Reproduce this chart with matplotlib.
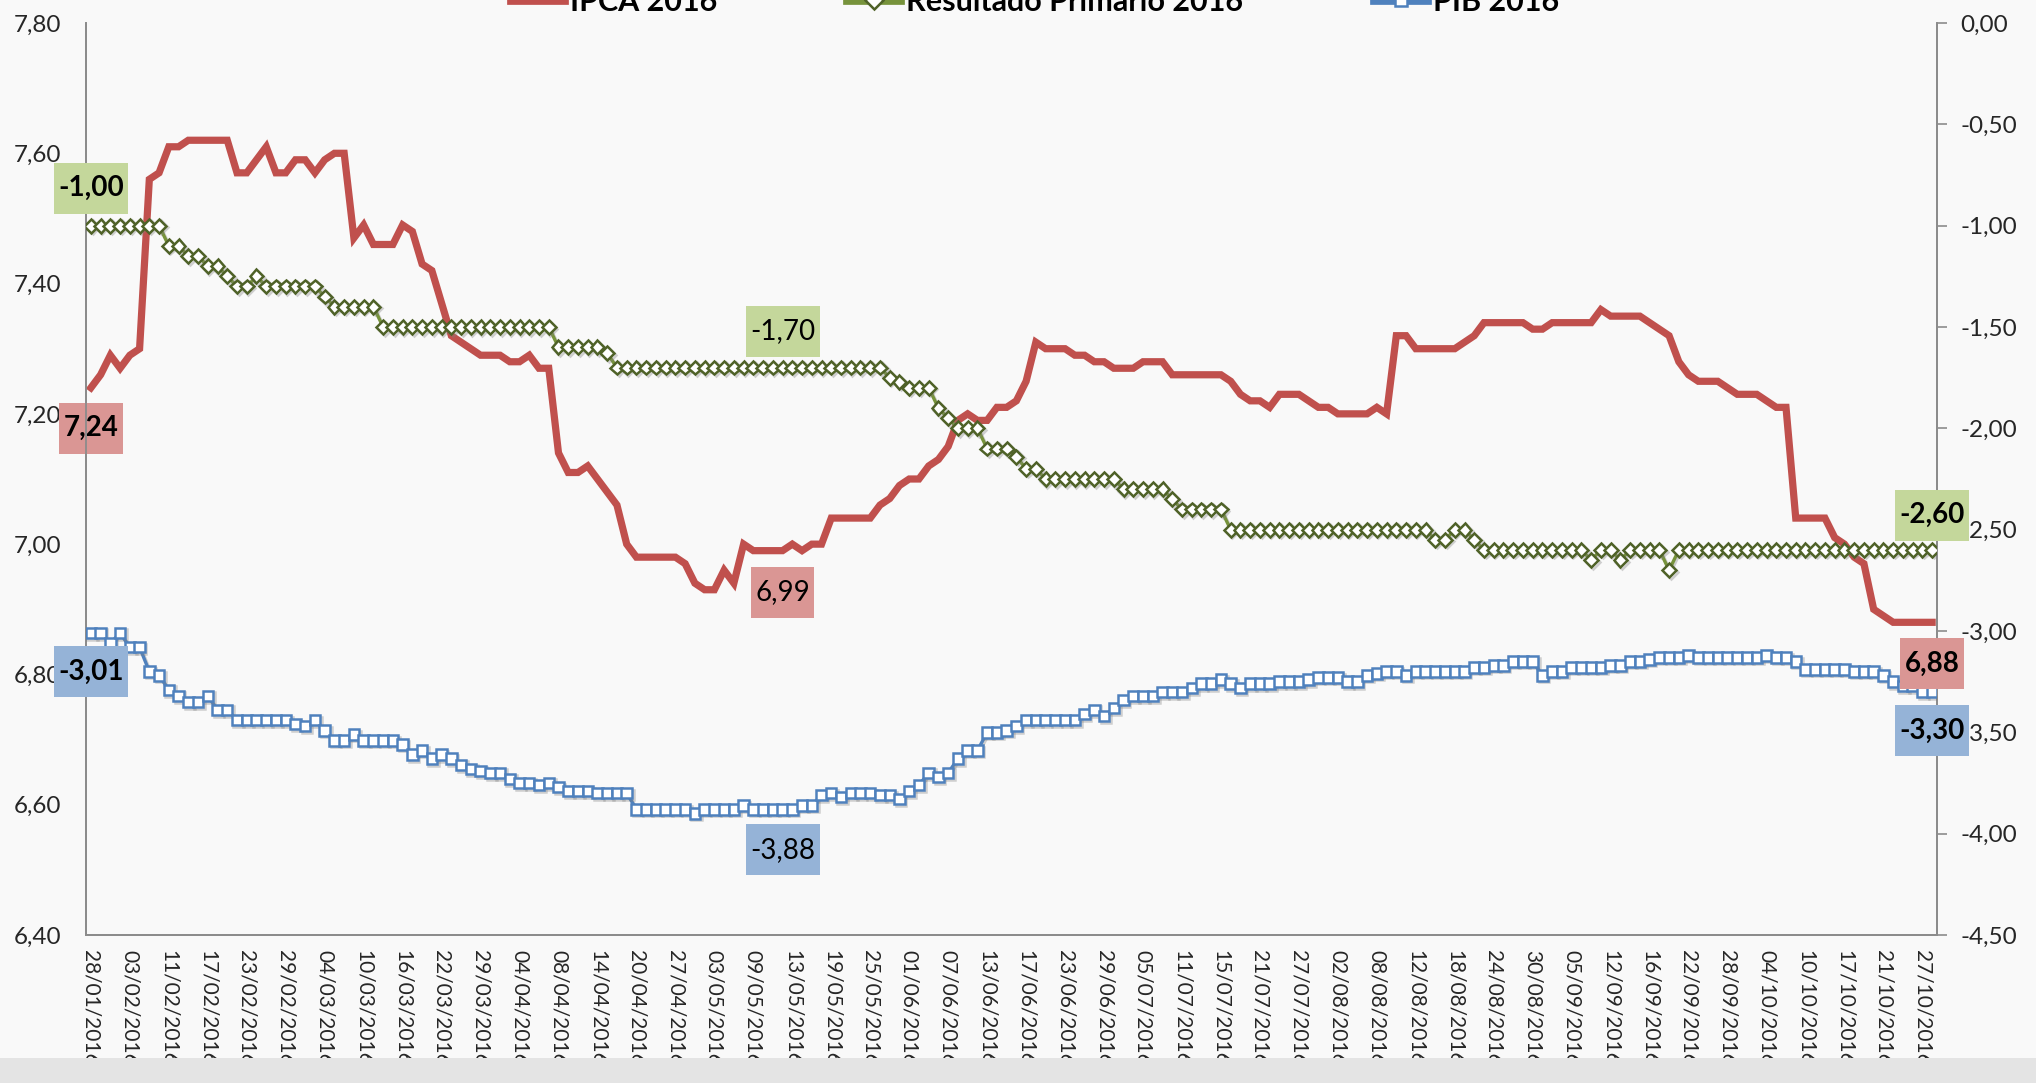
import matplotlib
matplotlib.use('Agg')
import matplotlib.pyplot as plt
import matplotlib.patheffects as pe
import pandas as pd
from matplotlib.lines import Line2D
from matplotlib.patches import Rectangle
from matplotlib.path import Path
from matplotlib.ticker import FixedLocator, FuncFormatter

# ---------------- data ----------------
holidays = ['2016-02-08', '2016-02-09', '2016-03-25', '2016-04-21',
            '2016-05-26', '2016-09-07', '2016-10-12']
dates = pd.bdate_range('2016-01-28', '2016-10-28', freq='C', holidays=holidays)

ipca = [7.24, 7.26, 7.29, 7.27, 7.29, 7.30, 7.56, 7.57, 7.61, 7.61,
        7.62, 7.62, 7.62, 7.62, 7.62, 7.57, 7.57, 7.59, 7.61, 7.57,
        7.57, 7.59, 7.59, 7.57, 7.59, 7.60, 7.60, 7.47, 7.49, 7.46,
        7.46, 7.46, 7.49, 7.48, 7.43, 7.42, 7.37, 7.32, 7.31, 7.30,
        7.29, 7.29, 7.29, 7.28, 7.28, 7.29, 7.27, 7.27, 7.14, 7.11,
        7.11, 7.12, 7.10, 7.08, 7.06, 7.00, 6.98, 6.98, 6.98, 6.98,
        6.98, 6.97, 6.94, 6.93, 6.93, 6.96, 6.94, 7.00, 6.99, 6.99,
        6.99, 6.99, 7.00, 6.99, 7.00, 7.00, 7.04, 7.04, 7.04, 7.04,
        7.04, 7.06, 7.07, 7.09, 7.10, 7.10, 7.12, 7.13, 7.15, 7.19,
        7.20, 7.19, 7.19, 7.21, 7.21, 7.22, 7.25, 7.31, 7.30, 7.30,
        7.30, 7.29, 7.29, 7.28, 7.28, 7.27, 7.27, 7.27, 7.28, 7.28,
        7.28, 7.26, 7.26, 7.26, 7.26, 7.26, 7.26, 7.25, 7.23, 7.22,
        7.22, 7.21, 7.23, 7.23, 7.23, 7.22, 7.21, 7.21, 7.20, 7.20,
        7.20, 7.20, 7.21, 7.20, 7.32, 7.32, 7.30, 7.30, 7.30, 7.30,
        7.30, 7.31, 7.32, 7.34, 7.34, 7.34, 7.34, 7.34, 7.33, 7.33,
        7.34, 7.34, 7.34, 7.34, 7.34, 7.36, 7.35, 7.35, 7.35, 7.35,
        7.34, 7.33, 7.32, 7.28, 7.26, 7.25, 7.25, 7.25, 7.24, 7.23,
        7.23, 7.23, 7.22, 7.21, 7.21, 7.04, 7.04, 7.04, 7.04, 7.01,
        7.00, 6.98, 6.97, 6.90, 6.89, 6.88, 6.88, 6.88, 6.88, 6.88]

primario = [-1.00, -1.00, -1.00, -1.00, -1.00, -1.00, -1.00, -1.00, -1.10, -1.10,
            -1.15, -1.15, -1.20, -1.20, -1.25, -1.30, -1.30, -1.25, -1.30, -1.30,
            -1.30, -1.30, -1.30, -1.30, -1.35, -1.40, -1.40, -1.40, -1.40, -1.40,
            -1.50, -1.50, -1.50, -1.50, -1.50, -1.50, -1.50, -1.50, -1.50, -1.50,
            -1.50, -1.50, -1.50, -1.50, -1.50, -1.50, -1.50, -1.50, -1.60, -1.60,
            -1.60, -1.60, -1.60, -1.63, -1.70, -1.70, -1.70, -1.70, -1.70, -1.70,
            -1.70, -1.70, -1.70, -1.70, -1.70, -1.70, -1.70, -1.70, -1.70, -1.70,
            -1.70, -1.70, -1.70, -1.70, -1.70, -1.70, -1.70, -1.70, -1.70, -1.70,
            -1.70, -1.70, -1.75, -1.77, -1.80, -1.80, -1.80, -1.90, -1.95, -2.00,
            -2.00, -2.00, -2.10, -2.10, -2.10, -2.14, -2.20, -2.20, -2.25, -2.25,
            -2.25, -2.25, -2.25, -2.25, -2.25, -2.25, -2.30, -2.30, -2.30, -2.30,
            -2.30, -2.35, -2.40, -2.40, -2.40, -2.40, -2.40, -2.50, -2.50, -2.50,
            -2.50, -2.50, -2.50, -2.50, -2.50, -2.50, -2.50, -2.50, -2.50, -2.50,
            -2.50, -2.50, -2.50, -2.50, -2.50, -2.50, -2.50, -2.50, -2.55, -2.55,
            -2.50, -2.50, -2.55, -2.60, -2.60, -2.60, -2.60, -2.60, -2.60, -2.60,
            -2.60, -2.60, -2.60, -2.60, -2.65, -2.60, -2.60, -2.65, -2.60, -2.60,
            -2.60, -2.60, -2.70, -2.60, -2.60, -2.60, -2.60, -2.60, -2.60, -2.60,
            -2.60, -2.60, -2.60, -2.60, -2.60, -2.60, -2.60, -2.60, -2.60, -2.60,
            -2.60, -2.60, -2.60, -2.60, -2.60, -2.60, -2.60, -2.60, -2.60, -2.60]

pib = [-3.01, -3.01, -3.06, -3.01, -3.08, -3.08, -3.20, -3.22, -3.29, -3.32,
       -3.35, -3.35, -3.32, -3.39, -3.39, -3.44, -3.44, -3.44, -3.44, -3.44,
       -3.44, -3.46, -3.47, -3.44, -3.49, -3.54, -3.54, -3.51, -3.54, -3.54,
       -3.54, -3.54, -3.56, -3.61, -3.59, -3.63, -3.61, -3.63, -3.66, -3.68,
       -3.69, -3.70, -3.70, -3.73, -3.75, -3.75, -3.76, -3.75, -3.77, -3.79,
       -3.79, -3.79, -3.80, -3.80, -3.80, -3.80, -3.88, -3.88, -3.88, -3.88,
       -3.88, -3.88, -3.90, -3.88, -3.88, -3.88, -3.88, -3.86, -3.88, -3.88,
       -3.88, -3.88, -3.88, -3.86, -3.86, -3.81, -3.80, -3.82, -3.80, -3.80,
       -3.80, -3.81, -3.81, -3.83, -3.79, -3.76, -3.70, -3.72, -3.70, -3.63,
       -3.59, -3.59, -3.50, -3.50, -3.49, -3.47, -3.44, -3.44, -3.44, -3.44,
       -3.44, -3.44, -3.41, -3.39, -3.42, -3.38, -3.34, -3.32, -3.32, -3.32,
       -3.30, -3.30, -3.30, -3.28, -3.26, -3.26, -3.24, -3.26, -3.28, -3.26,
       -3.26, -3.26, -3.25, -3.25, -3.25, -3.24, -3.23, -3.23, -3.23, -3.25,
       -3.25, -3.22, -3.21, -3.20, -3.20, -3.22, -3.20, -3.20, -3.20, -3.20,
       -3.20, -3.20, -3.18, -3.18, -3.17, -3.17, -3.15, -3.15, -3.15, -3.22,
       -3.20, -3.20, -3.18, -3.18, -3.18, -3.18, -3.17, -3.17, -3.15, -3.15,
       -3.14, -3.13, -3.13, -3.13, -3.12, -3.13, -3.13, -3.13, -3.13, -3.13,
       -3.13, -3.13, -3.12, -3.13, -3.13, -3.15, -3.19, -3.19, -3.19, -3.19,
       -3.19, -3.20, -3.20, -3.20, -3.22, -3.25, -3.27, -3.27, -3.30, -3.30]

n = min(len(dates), len(ipca), len(primario), len(pib))
x = list(range(n))
tick_pos = x[::4]
tick_labels = [dates[i].strftime('%d/%m/%Y') for i in tick_pos]

left_ticks = [6.40, 6.60, 6.80, 7.00, 7.20, 7.40, 7.60, 7.80]
right_ticks = [-4.50, -4.00, -3.50, -3.00, -2.50, -2.00, -1.50, -1.00, -0.50, 0.00]

series_names = ['IPCA 2016', 'Resultado Primário 2016', 'PIB 2016']
mid_idx = 71

# ---------------- style ----------------
plt.rcParams['font.family'] = ['Lato', 'DejaVu Sans']
RED = '#C0504D'
GREEN = '#77933C'
GREEN_DARK = '#4F6228'
BLUE = '#4F81BD'
TXT = '#262626'
AXC = '#8C8C8C'
RED_L = '#DA9694'
GREEN_L = '#C4D79B'
BLUE_L = '#95B3D7'


def tallbox(x0, y0, width, height, mutation_size):
    px = 0.16 * mutation_size
    py = 0.45 * mutation_size
    verts = [(x0 - px, y0 - py), (x0 + width + px, y0 - py),
             (x0 + width + px, y0 + height + py), (x0 - px, y0 + height + py),
             (x0 - px, y0 - py)]
    return Path(verts, closed=True)


fig = plt.figure(figsize=(20.36, 10.83), dpi=100)
fig.patch.set_facecolor('#F9F9F9')
fig.patches.append(Rectangle((0, 0), 1, 25 / 1083, transform=fig.transFigure,
                             facecolor='#E4E4E4', edgecolor='none', zorder=0))

ax = fig.add_axes([86 / 2036, 148 / 1083, 1851 / 2036, 912 / 1083])
ax.set_facecolor('none')
ax2 = ax.twinx()

shadow = [pe.SimpleLineShadow(offset=(1.2, -1.2), shadow_color='#7F7F7F', alpha=0.35), pe.Normal()]

ax.plot(x, ipca[:n], color=RED, lw=5.2, solid_joinstyle='miter', zorder=3)
ax2.plot(x, primario[:n], color=GREEN, lw=2.4, marker='D', markersize=7,
         markerfacecolor='white', markeredgecolor=GREEN_DARK, markeredgewidth=1.8, zorder=4,
         path_effects=shadow)
ax2.plot(x, pib[:n], color=BLUE, lw=2.4, marker='s', markersize=7.5,
         markerfacecolor='white', markeredgecolor=BLUE, markeredgewidth=1.8, zorder=4,
         path_effects=shadow)

ax.set_xlim(-0.5, n - 0.5)
ax.set_ylim(6.40, 7.80)
ax2.set_ylim(-4.50, 0.00)

fmt = FuncFormatter(lambda v, p: f'{v:.2f}'.replace('.', ','))
ax.yaxis.set_major_locator(FixedLocator(left_ticks))
ax.yaxis.set_major_formatter(fmt)
ax2.yaxis.set_major_locator(FixedLocator(right_ticks))
ax2.yaxis.set_major_formatter(fmt)

ax.set_xticks(tick_pos)
ax.set_xticklabels(tick_labels, rotation=270, ha='center', va='top')
ax.tick_params(axis='x', length=0, pad=11, labelsize=15, labelcolor=TXT)
ax.tick_params(axis='y', length=0, pad=18, labelsize=17.5, labelcolor=TXT)
ax2.tick_params(axis='y', length=7, width=1.2, color=AXC, pad=10, labelsize=17.5, labelcolor=TXT)

for a in (ax, ax2):
    a.spines['top'].set_visible(False)
    for s in ('left', 'right', 'bottom'):
        a.spines[s].set_color(AXC)
        a.spines[s].set_linewidth(1.3)


# ---------------- data labels ----------------
def lab(axis, i, v, dy, fc, bold=True):
    axis.annotate(f'{v:.2f}'.replace('.', ','), xy=(i, v), xytext=(0, dy),
                  textcoords='offset points', ha='center', va='center',
                  fontsize=20, fontweight='bold' if bold else 'normal', color='black',
                  bbox=dict(boxstyle=tallbox, fc=fc, ec='none'),
                  zorder=10, annotation_clip=False)


def on_ax2(i, v):
    return ax2.transData.inverted().transform(ax.transData.transform((i, v)))[1]


last = n - 1
lab(ax, 0, ipca[0], -29, RED_L)
lab(ax, mid_idx, ipca[mid_idx], -30, RED_L, bold=False)
lab(ax2, 0, primario[0], 27, GREEN_L)
lab(ax2, mid_idx, primario[mid_idx], 26, GREEN_L, bold=False)
lab(ax2, last, primario[last], 25, GREEN_L)
lab(ax2, 0, pib[0], -28, BLUE_L)
lab(ax2, mid_idx, pib[mid_idx], -29, BLUE_L, bold=False)
lab(ax2, last, pib[last], -28, BLUE_L)
ax2.annotate(f'{ipca[last]:.2f}'.replace('.', ','), xy=(last, on_ax2(last, ipca[last])),
             xytext=(0, -30), textcoords='offset points', ha='center', va='center',
             fontsize=20, fontweight='bold',
             bbox=dict(boxstyle=tallbox, fc=RED_L, ec='none'), zorder=10, annotation_clip=False)

# ---------------- legend (partly cut at top, as in the original) ----------------
handles = [
    Line2D([], [], color=RED, lw=7),
    Line2D([], [], color=GREEN, lw=7, marker='D', markersize=9, markerfacecolor='white',
           markeredgecolor=GREEN_DARK, markeredgewidth=1.8),
    Line2D([], [], color=BLUE, lw=7, marker='s', markersize=9, markerfacecolor='white',
           markeredgecolor=BLUE, markeredgewidth=1.8),
]
fig.legend(handles, series_names, loc='center', bbox_to_anchor=(0.5085, 0.998), ncol=3,
           frameon=False, prop={'size': 22, 'weight': 'bold'}, handlelength=1.7,
           handletextpad=0.2, columnspacing=4.3)

fig.savefig('out.png', dpi=100, facecolor=fig.get_facecolor())
